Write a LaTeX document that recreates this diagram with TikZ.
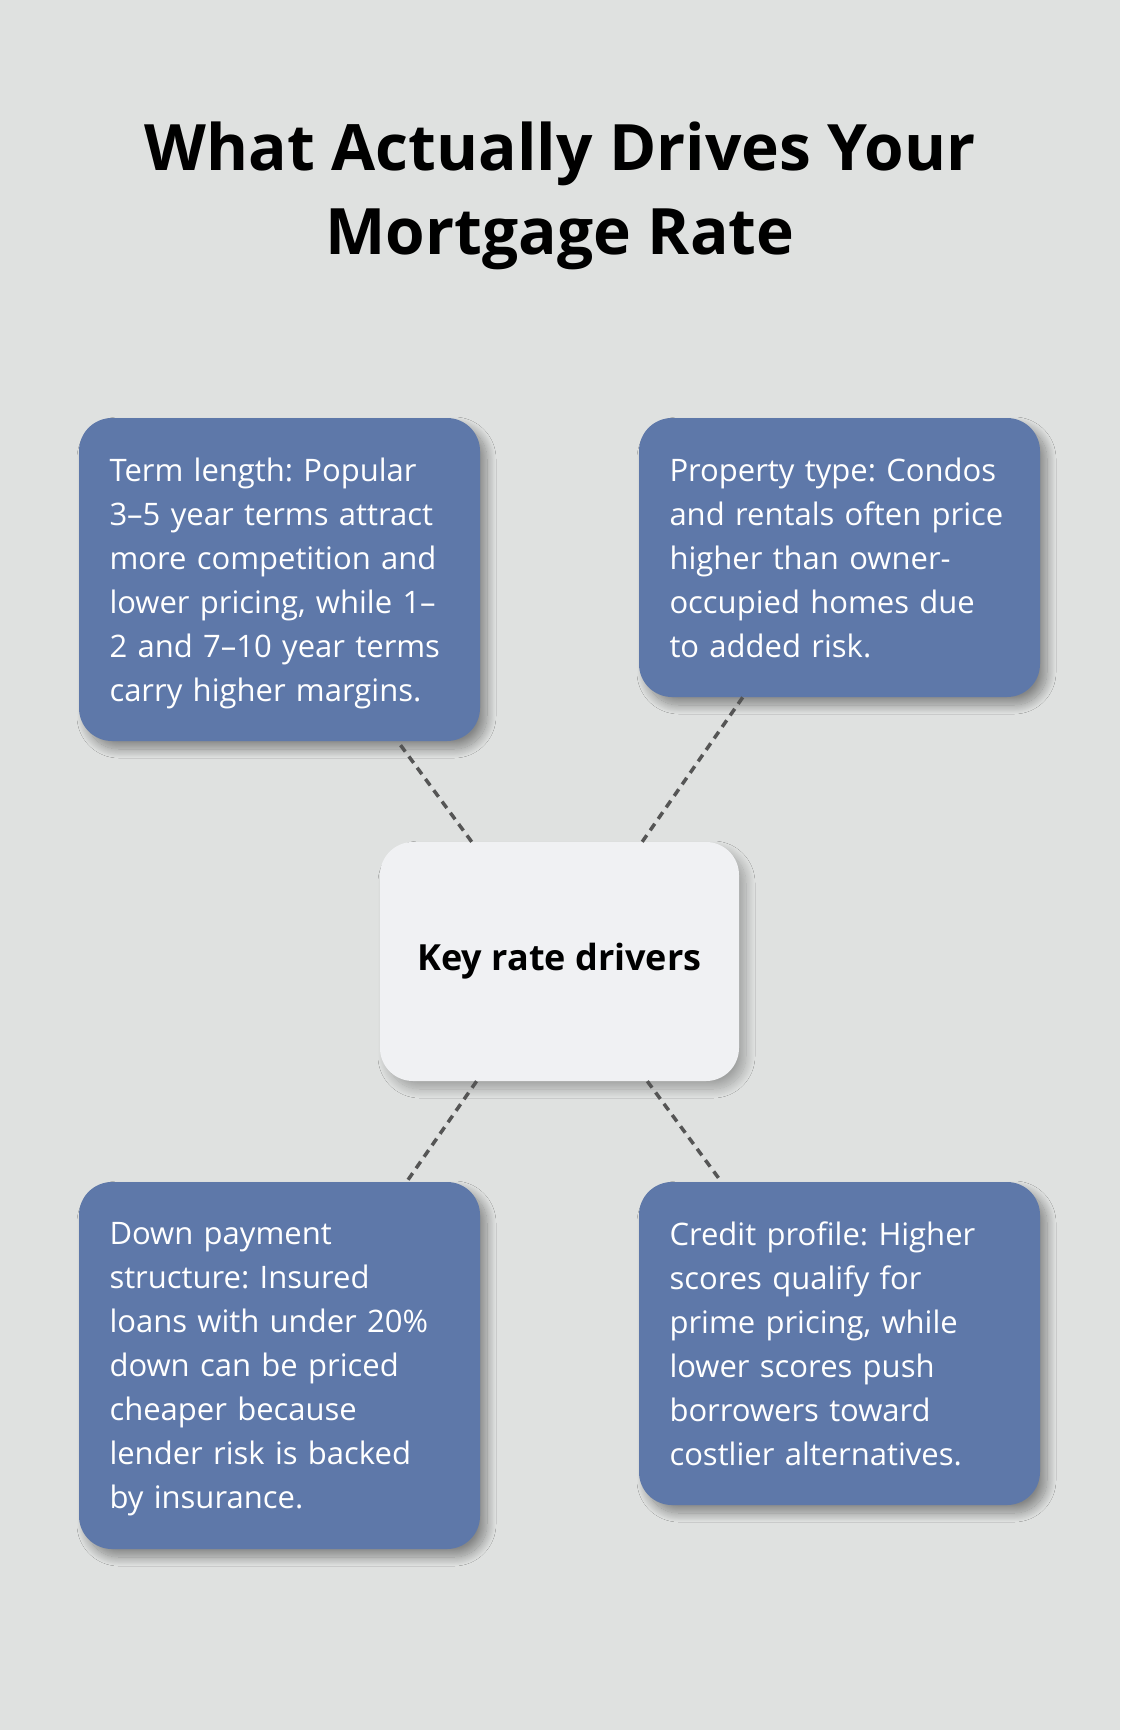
\documentclass[tikz,border=0pt]{standalone}
\usepackage{fontspec}
\setmainfont{Open Sans}
\usetikzlibrary{shadows.blur}

\definecolor{pagebg}{HTML}{DFE1E0}
\definecolor{cardblue}{HTML}{5E78A9}
\definecolor{hubfill}{HTML}{F0F1F3}
\definecolor{linkgray}{HTML}{555555}

\tikzset{
  headline/.style={align=center,inner sep=0pt,font=\fontsize{64}{84}\selectfont\bfseries},
  card/.style={fill=cardblue,rounded corners=33pt,text=white,align=left,
    text width=340pt,inner xsep=30.5pt,inner ysep=0pt,minimum width=401pt,
    font=\fontsize{31}{44}\selectfont,
    blur shadow={shadow xshift=7pt,shadow yshift=-8pt,shadow blur radius=9pt,
      shadow blur steps=20,shadow opacity=40}},
  hub/.style={fill=hubfill,rounded corners=33pt,minimum width=359pt,minimum height=239pt,
    font=\fontsize{36}{42}\selectfont\bfseries,
    blur shadow={shadow xshift=7pt,shadow yshift=-8pt,shadow blur radius=9pt,
      shadow blur steps=20,shadow opacity=28}},
  link/.style={draw=linkgray,line width=3.5pt,dash pattern=on 8pt off 6pt}
}

\begin{document}
\frenchspacing
\begin{tikzpicture}[x=1pt,y=-1pt]
  \fill[pagebg] (0,0) rectangle (1120,1730);

  \node[headline] (title) at (560,196) {What Actually Drives Your\\Mortgage Rate};

  \node[hub] (hub) at (559.5,961.5) {Key rate drivers};

  \node[card,minimum height=323pt] (term) at (279.5,579.5)
    {Term length: Popular\\3--5 year terms attract\\more competition and\\lower pricing, while 1--\\2 and 7--10 year terms\\\smash{carry higher margins.}};
  \node[card,minimum height=279pt] (property) at (839.5,557.5)
    {Property type: Condos\\and rentals often price\\higher than owner-\\occupied homes due\\to added risk.};
  \node[card,minimum height=367pt] (down) at (279.5,1365.5)
    {Down payment\\structure: Insured\\loans with under 20\%\\down can be priced\\cheaper because\\lender risk is backed\\\smash{by insurance.}};
  \node[card,minimum height=323pt] (credit) at (839.5,1343.5)
    {Credit profile: Higher\\scores qualify for\\prime pricing, while\\lower scores push\\borrowers toward\\costlier alternatives.};

  \draw[link] (hub) -- (term);
  \draw[link] (hub) -- (property);
  \draw[link] (hub) -- (down);
  \draw[link] (hub) -- (credit);
\end{tikzpicture}
\end{document}
